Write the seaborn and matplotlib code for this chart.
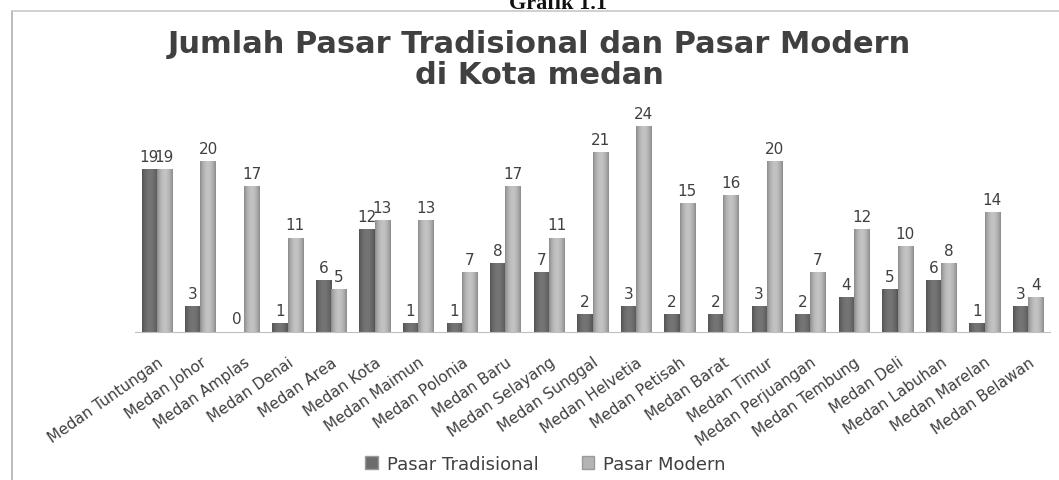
import numpy as np
import pandas as pd
import seaborn as sns
import matplotlib.pyplot as plt
from matplotlib.lines import Line2D
from matplotlib.patches import Patch
from matplotlib.colors import to_rgb

# Data
kecamatan = ["Medan Tuntungan", "Medan Johor", "Medan Amplas", "Medan Denai",
             "Medan Area", "Medan Kota", "Medan Maimun", "Medan Polonia",
             "Medan Baru", "Medan Selayang", "Medan Sunggal", "Medan Helvetia",
             "Medan Petisah", "Medan Barat", "Medan Timur", "Medan Perjuangan",
             "Medan Tembung", "Medan Deli", "Medan Labuhan", "Medan Marelan",
             "Medan Belawan"]
pasar_tradisional = [19, 3, 0, 1, 6, 12, 1, 1, 8, 7, 2, 3, 2, 2, 3, 2, 4, 5, 6, 1, 3]
pasar_modern = [19, 20, 17, 11, 5, 13, 13, 7, 17, 11, 21, 24, 15, 16, 20, 7, 12, 10, 8, 14, 4]
series = ["Pasar Tradisional", "Pasar Modern"]
colors = {"Pasar Tradisional": "#6c6c6c", "Pasar Modern": "#b4b4b4"}

df = pd.DataFrame({
    "Kecamatan": kecamatan * 2,
    "Jumlah": pasar_tradisional + pasar_modern,
    "Jenis": [series[0]] * len(kecamatan) + [series[1]] * len(kecamatan),
})

sns.set_style("white")
plt.rcParams["font.family"] = ["DejaVu Sans"]
text_col = "#404040"

fig = plt.figure(figsize=(10.59, 4.81), dpi=100)
ax = fig.add_axes([0.1275, 0.3077, 0.864, 0.444])
ax.patch.set_alpha(0)

sns.barplot(data=df, x="Kecamatan", y="Jumlah", hue="Jenis", order=kecamatan,
            hue_order=series, palette=colors, width=0.7, gap=0,
            saturation=1, ax=ax, legend=False)

# cylinder-like shading on each bar
for bar in list(ax.patches):
    x, w, h = bar.get_x(), bar.get_width(), bar.get_height()
    if h <= 0:
        continue
    base = np.array(to_rgb(bar.get_facecolor()))
    t = np.linspace(-1, 1, 32)
    shade = 0.78 + 0.3 * (1 - t ** 2)
    grad = np.clip(base[None, :] * shade[:, None], 0, 1)[None, :, :]
    ax.imshow(grad, extent=[x, x + w, 0, h], aspect="auto", zorder=2,
              interpolation="bilinear")
    bar.set_visible(False)

# value labels
for i, name in enumerate(kecamatan):
    for j, vals in enumerate([pasar_tradisional, pasar_modern]):
        xpos = i - 0.175 + 0.35 * j
        ax.annotate(str(vals[i]), (xpos, vals[i]), xytext=(0, 4),
                    textcoords="offset points", ha="center", va="bottom",
                    fontsize=11, color=text_col)

ax.set_xlim(-0.5, len(kecamatan) - 0.5)
ax.set_ylim(0, 25)
ax.set_xlabel("")
ax.set_ylabel("")
ax.set_yticks([])
for s in ["left", "right", "top"]:
    ax.spines[s].set_visible(False)
ax.spines["bottom"].set_color("#bfbfbf")
ax.tick_params(axis="x", length=0, pad=16)
ax.set_xticks(range(len(kecamatan)))
ax.set_xticklabels(kecamatan, rotation=35, ha="right", va="top",
                   rotation_mode="anchor", fontsize=11, color=text_col)

fig.text(0.509, 0.907, "Jumlah Pasar Tradisional dan Pasar Modern",
         ha="center", va="center", fontsize=22, fontweight="bold", color=text_col)
fig.text(0.509, 0.843, "di Kota medan", ha="center", va="center",
         fontsize=22, fontweight="bold", color=text_col)

fig.text(0.527, 1 - 9 / 481, "Grafik 1.1", ha="center", va="baseline",
         fontsize=16, fontweight="bold", family="Liberation Serif", color="#111111")

# frame lines of the pasted chart
fig.add_artist(Line2D([12 / 1059, 12 / 1059], [0, 1 - 12 / 481], color="#b0b0b0", lw=1.2))
fig.add_artist(Line2D([12 / 1059, 1], [1 - 12 / 481, 1 - 12 / 481], color="#c8c8c8", lw=1.2))

handles = [Patch(facecolor=colors[s], edgecolor="#9a9a9a") for s in series]
fig.legend(handles, series, loc="center", bbox_to_anchor=(0.515, 0.033), ncol=2,
           frameon=False, fontsize=13, handlelength=0.7, handleheight=0.7,
           handletextpad=0.5, columnspacing=2.4, labelcolor=text_col)

fig.savefig("out.png", dpi=100)
